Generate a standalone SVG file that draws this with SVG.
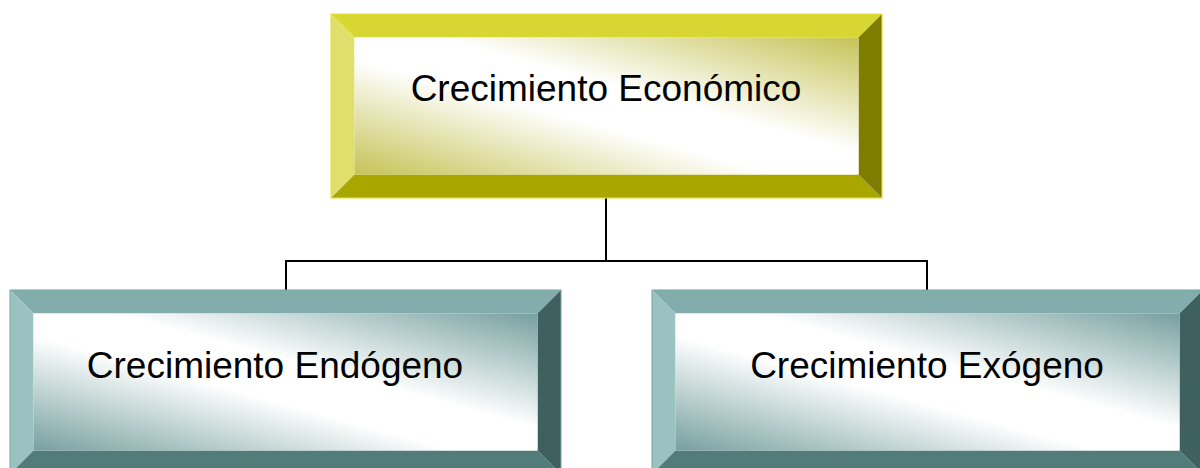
<svg xmlns="http://www.w3.org/2000/svg" width="1200" height="468" viewBox="0 0 1200 468">
  <defs>
    <linearGradient id="gy" x1="0" y1="1" x2="1" y2="0">
      <stop offset="0" stop-color="#c5c356"/>
      <stop offset="0.42" stop-color="#ffffff"/>
      <stop offset="0.58" stop-color="#ffffff"/>
      <stop offset="1" stop-color="#c5c356"/>
    </linearGradient>
    <linearGradient id="gt" x1="0" y1="1" x2="1" y2="0">
      <stop offset="0" stop-color="#76a09f"/>
      <stop offset="0.42" stop-color="#ffffff"/>
      <stop offset="0.58" stop-color="#ffffff"/>
      <stop offset="1" stop-color="#76a09f"/>
    </linearGradient>
    <style>
      .lbl { font-family: "Liberation Sans", Arial, sans-serif; font-size: 37px; fill: #000; text-anchor: middle; }
      .conn { fill: none; stroke: #000; stroke-width: 2; }
      .yt { fill: #d8d632; } .yl { fill: #e0df6b; } .yb { fill: #a9a600; } .yr { fill: #7f7d00; }
      .tt { fill: #83adac; } .tl { fill: #9ac2c1; } .tb { fill: #517c7a; } .tr { fill: #3e605e; }
      .yo { fill: none; stroke: #e3e230; stroke-width: 1; }
      .to { fill: none; stroke: #7aa6a5; stroke-width: 1; }
    </style>
  </defs>

  <g id="connectors">
    <path class="conn" d="M606 198 V261 M286 290 V261 H927 V290"/>
  </g>

  <g id="node-economico">
    <polygon class="yt" points="331,14 882,14 858.5,37.5 354.5,37.5"/>
    <polygon class="yl" points="331,14 354.5,37.5 354.5,174.5 331,198"/>
    <polygon class="yb" points="331,198 354.5,174.5 858.5,174.5 882,198"/>
    <polygon class="yr" points="882,14 882,198 858.5,174.5 858.5,37.5"/>
    <rect x="354.5" y="37.5" width="504" height="137" fill="url(#gy)"/>
    <rect class="yo" x="331" y="14" width="551" height="184"/>
    <text class="lbl" x="606" y="101">Crecimiento Económico</text>
  </g>

  <g id="node-endogeno">
    <polygon class="tt" points="10,290 561,290 537.5,313.5 33.5,313.5"/>
    <polygon class="tl" points="10,290 33.5,313.5 33.5,450.5 10,474"/>
    <polygon class="tb" points="10,474 33.5,450.5 537.5,450.5 561,474"/>
    <polygon class="tr" points="561,290 561,474 537.5,450.5 537.5,313.5"/>
    <rect x="33.5" y="313.5" width="504" height="137" fill="url(#gt)"/>
    <rect class="to" x="10" y="290" width="551" height="184"/>
    <text class="lbl" x="275" y="378">Crecimiento Endógeno</text>
  </g>

  <g id="node-exogeno">
    <polygon class="tt" points="652,290 1203,290 1179.5,313.5 675.5,313.5"/>
    <polygon class="tl" points="652,290 675.5,313.5 675.5,450.5 652,474"/>
    <polygon class="tb" points="652,474 675.5,450.5 1179.5,450.5 1203,474"/>
    <polygon class="tr" points="1203,290 1203,474 1179.5,450.5 1179.5,313.5"/>
    <rect x="675.5" y="313.5" width="504" height="137" fill="url(#gt)"/>
    <rect class="to" x="652" y="290" width="551" height="184"/>
    <text class="lbl" x="927" y="378">Crecimiento Exógeno</text>
  </g>
</svg>
